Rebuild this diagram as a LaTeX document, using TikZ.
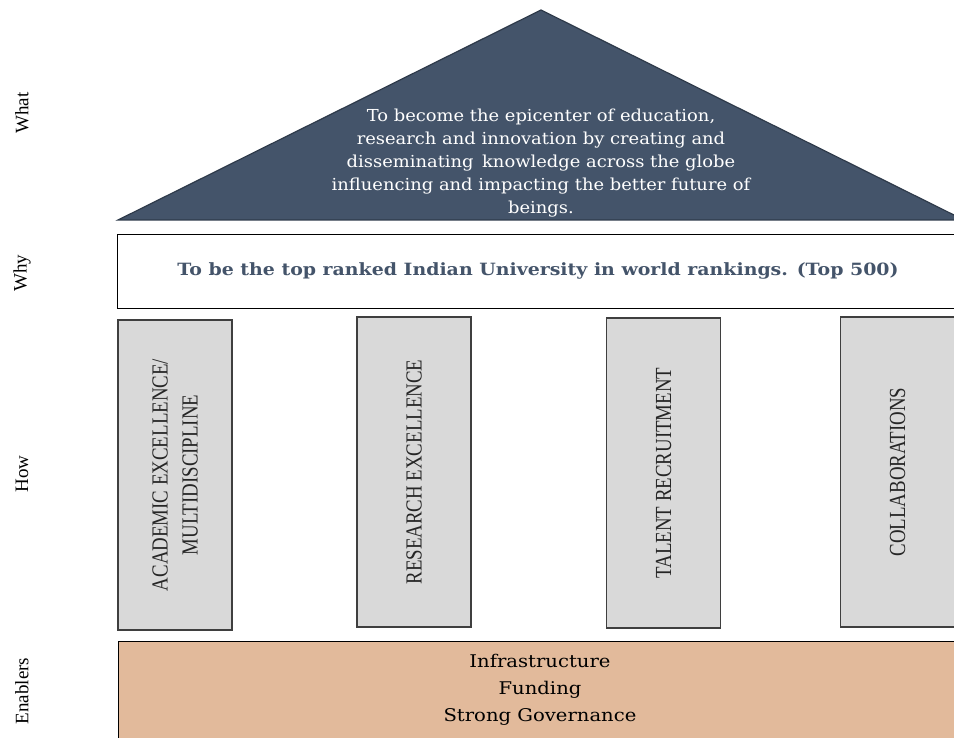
\documentclass[tikz,border=0pt]{standalone}
\usepackage{fontspec}
\setmainfont{Liberation Serif}
\newfontfamily\bookserif{DejaVu Serif}[FakeStretch=1.085]
\newfontfamily\wideserif{DejaVu Serif}[FakeStretch=1.12]
\newfontfamily\capserif{Liberation Serif}[FakeStretch=0.82]
\definecolor{roofblue}{HTML}{44546A}
\definecolor{roofedge}{HTML}{2E3A4A}
\definecolor{pillargray}{HTML}{D9D9D9}
\definecolor{pillaredge}{HTML}{3F3F3F}
\definecolor{basepeach}{HTML}{E2BA9B}
\definecolor{inkgray}{HTML}{262626}
\tikzset{
  sidelabel/.style={rotate=90, font=\fontsize{19}{22}\selectfont, text=black},
  pillar/.style={draw=pillaredge, line width=1.4pt, fill=pillargray, rotate=90,
    minimum height=114pt, align=center, text=inkgray,
    font=\capserif\fontsize{23}{30}\selectfont, inner sep=0pt},
  band/.style={draw=black, line width=1.2pt},
}
\begin{document}
\begin{tikzpicture}[x=1pt, y=-1pt]
  \useasboundingbox (0,0) rectangle (954,738);
  \clip (0,0) rectangle (954,738);
  \fill[white] (0,0) rectangle (954,738);

  % roof: the vision
  \draw[fill=roofblue, draw=roofedge, line width=1.2pt, line join=miter]
    (541,10) -- (118,220) -- (964,220) -- cycle;
  \node[text=white, align=center, font=\bookserif\fontsize{16.5}{23}\selectfont]
    (what) at (541,163)
    {To become the epicenter of education,\\
     research and innovation by creating and\\
     disseminating\, knowledge across the globe\\
     influencing and impacting the better future of\\
     beings.};

  % lintel: the mission
  \node[band, fill=white, minimum width=850pt, minimum height=74pt, anchor=north west]
    (why) at (117,234) {};
  \node[text=roofblue, font=\wideserif\bfseries\fontsize{16.9}{23}\selectfont]
    (whytext) at (538,271) {To be the top ranked Indian University in world rankings. (Top 500)};

  % pillars: the strategies
  \node[pillar, minimum width=310pt] (p1) at (175,475)
    {ACADEMIC EXCELLENCE/\\MULTIDISCIPLINE};
  \node[pillar, minimum width=310pt] (p2) at (414,472) {RESEARCH EXCELLENCE};
  \node[pillar, minimum width=310pt] (p3) at (663.5,473) {TALENT RECRUITMENT};
  \node[pillar, minimum width=310pt] (p4) at (897.5,472) {COLLABORATIONS};

  % foundation: the enablers
  \node[band, fill=basepeach, minimum width=850pt, minimum height=110pt, anchor=north west]
    (base) at (118,641) {};
  \node[align=center, font=\wideserif\fontsize{17.5}{27}\selectfont]
    (basetext) at (540,690) {Infrastructure\\Funding\\Strong Governance};

  % row captions
  \node[sidelabel] (lwhat) at (22,113) {What};
  \node[sidelabel] (lwhy) at (22,273) {Why};
  \node[sidelabel] (lhow) at (22,474) {How};
  \node[sidelabel] (lenab) at (22,691) {Enablers};
\end{tikzpicture}
\end{document}
